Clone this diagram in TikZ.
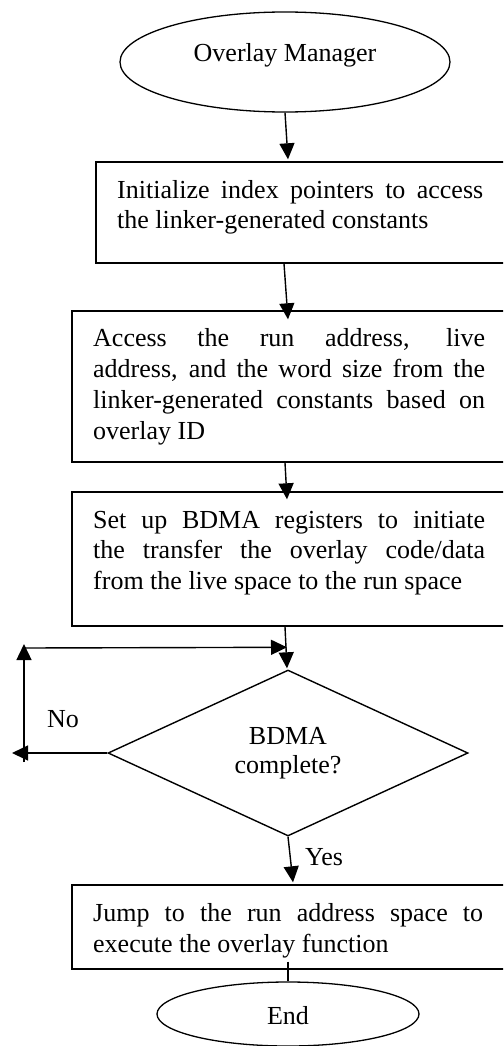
\documentclass[tikz,border=0pt]{standalone}
\usepackage{fontspec}
\setmainfont{Liberation Serif}
\usetikzlibrary{shapes.geometric,arrows.meta}
\tikzset{
  every node/.style={font=\fontsize{26}{30}\selectfont, inner sep=0pt},
  boxnode/.style={draw, rectangle, line width=1.4pt},
  ellnode/.style={draw, ellipse, line width=1.3pt},
  txt/.style={anchor=base west, inner sep=0pt},
  arr/.style={line width=1.4pt, -{Triangle[length=16pt,width=15pt]}},
  plain/.style={line width=1.4pt}
}
\begin{document}
\begin{tikzpicture}[x=1pt,y=-1pt]
\useasboundingbox (0,0) rectangle (503,1046);
\clip (0,0) rectangle (503,1046);
% start / end
\node[ellnode, minimum width=330pt, minimum height=100pt, text height=15pt, text depth=15pt] (om) at (285,62) {Overlay Manager};
\node[ellnode, minimum width=262pt, minimum height=64pt, text height=20pt, text depth=0pt] (end) at (288,1014) {End};
% boxes
\node[boxnode, minimum width=409pt, minimum height=101pt] (b1) at (300.5,212.5) {};
\node[boxnode, minimum width=433pt, minimum height=151pt] (b2) at (288.5,386.5) {};
\node[boxnode, minimum width=433pt, minimum height=134pt] (b3) at (288.5,559) {};
\node[boxnode, minimum width=433pt, minimum height=84pt] (b4) at (288.5,927) {};
% decision
\node[draw, diamond, aspect=2.17, line width=1.4pt, minimum width=360pt, minimum height=166pt, align=center, font=\fontsize{26}{29}\selectfont] (d) at (288,753) {BDMA\\complete?};
% box texts
\node[txt] (t1) at (117,198) {\parbox[t]{366pt}{\makebox[366pt][s]{Initialize index pointers to access}\\the linker-generated constants}};
\node[txt, font=\fontsize{26}{31}\selectfont] (t2) at (93,346) {\parbox[t]{392pt}{\makebox[392pt][s]{Access the run address, live}\\\makebox[392pt][s]{address, and the word size from the}\\\makebox[392pt][s]{linker-generated constants based on}\\overlay ID}};
\node[txt, font=\fontsize{26}{30.5}\selectfont] (t3) at (93,528) {\parbox[t]{392pt}{\makebox[392pt][s]{Set up BDMA registers to initiate}\\\makebox[392pt][s]{the transfer the overlay code/data}\\from the live space to the run space}};
\node[txt, font=\fontsize{26}{31}\selectfont] (t4) at (93,921) {\parbox[t]{390pt}{\makebox[390pt][s]{Jump to the run address space to}\\execute the overlay function}};
% labels
\node[txt] (no) at (47,727) {No};
\node[txt] (yes) at (305,865) {Yes};
% connectors
\draw[arr] (om.south) -- ([shift={(-12.5,-2)}]b1.north);
\draw[arr] ([shift={(-16.5,0)}]b1.south) -- ([shift={(-0.5,9)}]b2.north);
\draw[arr] ([shift={(-3.5,0)}]b2.south) -- ([shift={(-1.5,8)}]b3.north);
\draw[arr] ([shift={(-3.5,0)}]b3.south) -- ([shift={(-1,-1)}]d.north);
\coordinate (noleft) at (12,753);
\coordinate (loopbot) at (24,762);
\coordinate (looptop) at (24,644);
\coordinate (loopcorner) at (24,648);
\draw[arr] (d.west) -- (noleft);
\draw[arr] (loopbot) -- (looptop);
\draw[arr] (loopcorner) -- ([shift={(-1,-22)}]d.north);
\draw[arr] (d.south) -- ([shift={(4.5,-2)}]b4.north);
\draw[plain] ([shift={(-0.5,-8)}]b4.south) -- (end.north);
\end{tikzpicture}
\end{document}
